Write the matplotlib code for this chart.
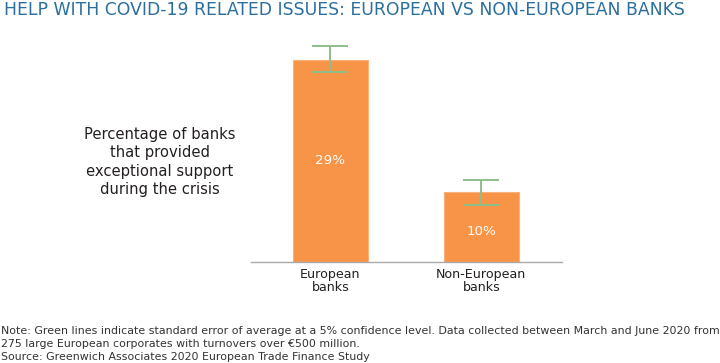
import matplotlib
matplotlib.use("Agg")
import matplotlib.pyplot as plt
from matplotlib.transforms import blended_transform_factory

categories = ["European\nbanks", "Non-European\nbanks"]
values = [29, 10]
err_low = [1.7, 1.8]
err_high = [2.0, 1.8]
value_labels = ["29%", "10%"]

title = "HELP WITH COVID-19 RELATED ISSUES: EUROPEAN VS NON-EUROPEAN BANKS"
side_lines = ["Percentage of banks", "that provided", "exceptional support", "during the crisis"]
note_lines = ["Note: Green lines indicate standard error of average at a 5% confidence level. Data collected between March and June 2020 from",
              "275 large European corporates with turnovers over \u20ac500 million.",
              "Source: Greenwich Associates 2020 European Trade Finance Study"]

FONT = "DejaVu Sans"
TXT = "#231F20"
W, H = 720, 363
fig = plt.figure(figsize=(W / 100, H / 100), dpi=100)
fig.patch.set_facecolor("white")
renderer = fig.canvas.get_renderer()


def fit(t, target_px):
    w = t.get_window_extent(renderer).width
    t.set_fontsize(t.get_fontsize() * target_px / w)
    return t.get_fontsize()


def fy(py):
    return 1 - py / H


ax = fig.add_axes([251 / W, 1 - 262 / H, 311 / W, 222.6 / H])
x = list(range(len(values)))
ax.bar(x, values, width=0.50, color="#F79447", edgecolor="#FAB07A", linewidth=0.8, zorder=2)
ax.errorbar(x, values, yerr=[err_low, err_high], fmt="none", ecolor="#8DBF8B",
            elinewidth=1.4, capsize=13, capthick=1.4, zorder=3)
label_dy = [-0.41, -1.12]
for xi, v, lab, dy in zip(x, values, value_labels, label_dy):
    ax.text(xi, v / 2 + dy, lab, ha="center", va="baseline",
            color="white", fontsize=9.6, family=FONT)
ax.set_xlim(-0.527, 1.535)
ax.set_ylim(0, 32)
ax.set_xticks([])
ax.set_yticks([])
for s in ["top", "right", "left"]:
    ax.spines[s].set_visible(False)
ax.spines["bottom"].set_color("#AAAAAA")
ax.spines["bottom"].set_linewidth(1.0)

# category labels
btr = blended_transform_factory(ax.transData, fig.transFigure)
for xi, cat in zip(x, categories):
    for j, ln in enumerate(cat.split("\n")):
        ax.text(xi, fy(278 + 13.3 * j), ln, ha="center", va="baseline", transform=btr,
                fontsize=9.1, family=FONT, color=TXT)

# title
t = fig.text(4 / W, fy(15), title, ha="left", va="baseline", color="#2B6F9E",
             fontsize=12, family=FONT)
fit(t, 678)

# side text
t0 = fig.text(159.5 / W, fy(138.7), side_lines[0], ha="center", va="baseline",
              color=TXT, fontsize=11, family=FONT)
ss = fit(t0, 151)
for j, ln in enumerate(side_lines[1:], start=1):
    fig.text(159.5 / W, fy(138.7 + 18.4 * j), ln, ha="center", va="baseline",
             color=TXT, fontsize=ss, family=FONT)

# note
t0 = fig.text(1 / W, fy(334), note_lines[0], ha="left", va="baseline",
              color="#333333", fontsize=8, family=FONT)
ns = fit(t0, 716)
for j, ln in enumerate(note_lines[1:], start=1):
    fig.text(1 / W, fy(334 + 13.1 * j), ln, ha="left", va="baseline",
             color="#333333", fontsize=ns, family=FONT)

fig.savefig("out.png", dpi=100, facecolor="white")
